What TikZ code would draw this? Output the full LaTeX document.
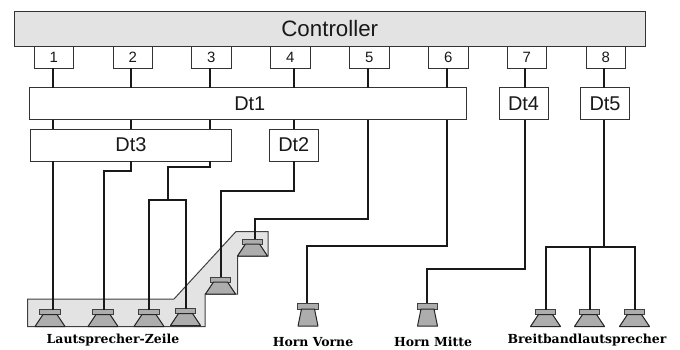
\documentclass[tikz,border=0pt]{standalone}
\usepackage{fontspec}
\setmainfont{Liberation Sans}
\newfontfamily\lblfont{DejaVu Serif}
\tikzset{
  every node/.style={inner sep=0pt,outer sep=0pt},
  box/.style={draw=black!80,line width=1bp,fill=white,anchor=north west,text=black!90},
  wire/.style={draw=black!90,line width=2bp,line join=miter},
  magnet/.style={draw=black!75,line width=1bp,fill=black!32,anchor=north,minimum width=20.5bp,minimum height=5bp},
  cone/.style={draw=black!85,line width=1bp,fill=black!32,line join=round},
  lbl/.style={font=\lblfont\bfseries\fontsize{12.5}{14}\selectfont,text=black}
}
\newcommand{\bx}[7]{\node[box,minimum width=#4bp,minimum height=#5bp,font=\fontsize{#6}{#6}\selectfont] (#1) at (#2,#3) {#7};}
\newcommand{\spk}[3]{%
  \node[magnet] (#1) at (#2,#3) {};
  \draw[cone] ([xshift=-7bp]#1.south) -- ([xshift=7bp]#1.south) -- ([xshift=15bp,yshift=-12bp]#1.south) -- ([xshift=-15bp,yshift=-12bp]#1.south) -- cycle;}
\newcommand{\hrn}[3]{%
  \node[magnet,minimum height=6bp] (#1) at (#2,#3) {};
  \draw[cone] ([xshift=-6.5bp]#1.south) -- ([xshift=6.5bp]#1.south) -- ([xshift=10bp,yshift=-17bp]#1.south) -- ([xshift=-10bp,yshift=-17bp]#1.south) -- cycle;}
\begin{document}
\begin{tikzpicture}[x=1bp,y=-1bp]
\useasboundingbox (0,0) rectangle (680,349);
% gray band
\draw[draw=black!75,line width=1bp,fill=black!11] (27.5,299) -- (174,299) -- (236,231.5) -- (268,231.5) -- (268,256) -- (237.5,256) -- (237.5,294) -- (205,294) -- (205,326.5) -- (27.5,326.5) -- cycle;
% controller
\node[box,fill=black!11,minimum width=631.5bp,minimum height=35bp,font=\fontsize{22.4}{24}\selectfont] (ctrl) at (14,11.5) {Controller};
% numbered boxes
\bx{b1}{34}{46.5}{39.5}{21.5}{15}{1}
\bx{b2}{113}{46.5}{39.5}{21.5}{15}{2}
\bx{b3}{191.5}{46.5}{39.5}{21.5}{15}{3}
\bx{b4}{270.5}{46.5}{39.5}{21.5}{15}{4}
\bx{b5}{349.5}{46.5}{39.5}{21.5}{15}{5}
\bx{b6}{428.5}{46.5}{39.5}{21.5}{15}{6}
\bx{b7}{507}{46.5}{39.5}{21.5}{15}{7}
\bx{b8}{586}{46.5}{39.5}{21.5}{15}{8}
% delay boxes
\bx{dt1}{29.5}{87.5}{436.5}{32}{20}{\hspace*{4bp}Dt1}
\bx{dt3}{30.5}{129}{201}{32}{20}{Dt3}
\bx{dt2}{269.5}{129}{48.5}{32}{20}{Dt2}
\bx{dt4}{499}{87.5}{49}{32}{20}{Dt4}
\bx{dt5}{580.5}{87.5}{49}{32}{20}{Dt5}
% speakers
\spk{s1}{50}{309.5}
\spk{s2}{103}{309.5}
\spk{s3}{149}{309.5}
\spk{s4}{185.5}{308.5}
\spk{s5}{220.5}{277}
\spk{s6}{252.5}{239}
\hrn{h1}{308}{303}
\hrn{h2}{427.5}{303}
\spk{s7}{545.5}{309.5}
\spk{s8}{589.5}{309.5}
\spk{s9}{634.5}{309.5}
% junctions
\coordinate (j3) at (168,200);
\coordinate (j8) at (604,247);
% wires from the outputs to Dt1, Dt4, Dt5
\draw[wire] (53,0 |- b1.south) -- (53,0 |- dt1.north);
\draw[wire] (131,0 |- b2.south) -- (131,0 |- dt1.north);
\draw[wire] (210,0 |- b3.south) -- (210,0 |- dt1.north);
\draw[wire] (294,0 |- b4.south) -- (294,0 |- dt1.north);
\draw[wire] (368,0 |- b5.south) -- (368,0 |- dt1.north);
\draw[wire] (447,0 |- b6.south) -- (447,0 |- dt1.north);
\draw[wire] (525,0 |- b7.south) -- (525,0 |- dt4.north);
\draw[wire] (604,0 |- b8.south) -- (604,0 |- dt5.north);
% wires from Dt1 to Dt3, Dt2
\draw[wire] (53,0 |- dt1.south) -- (53,0 |- dt3.north);
\draw[wire] (131,0 |- dt1.south) -- (131,0 |- dt3.north);
\draw[wire] (210,0 |- dt1.south) -- (210,0 |- dt3.north);
\draw[wire] (294,0 |- dt1.south) -- (294,0 |- dt2.north);
% outgoing wires
\draw[wire] (53,0 |- dt3.south) -- (53,0 |- s1.north);
\draw[wire] (131,0 |- dt3.south) -- (131,171) -- (104,171) -- (104,0 |- s2.north);
\draw[wire] (210,0 |- dt3.south) -- (210,167) -- (168,167) -- (j3);
\draw[wire] (149,0 |- s3.north) |- (j3) -| (185.5,0 |- s4.north);
\draw[wire] (294,0 |- dt2.south) -- (294,191) -- (221,191) -- (221,0 |- s5.north);
\draw[wire] (368,0 |- dt1.south) -- (368,218.5) -- (254.5,218.5) -- (254.5,0 |- s6.north);
\draw[wire] (447,0 |- dt1.south) -- (447,246) -- (307,246) -- (307,0 |- h1.north);
\draw[wire] (525,0 |- dt4.south) -- (525,269) -- (427,269) -- (427,0 |- h2.north);
\draw[wire] (604,0 |- dt5.south) -- (j8);
\draw[wire] (s7.north) |- (j8) -| (s9.north);
\draw[wire] (s8.north) -- (s8.north |- j8);
% labels
\node[lbl] (l1) at (113,340) {Lautsprecher-Zeile};
\node[lbl] (l2) at (313,342) {Horn Vorne};
\node[lbl] (l3) at (433,342) {Horn Mitte};
\node[lbl] (l4) at (587,340) {Breitbandlautsprecher};
\end{tikzpicture}
\end{document}
